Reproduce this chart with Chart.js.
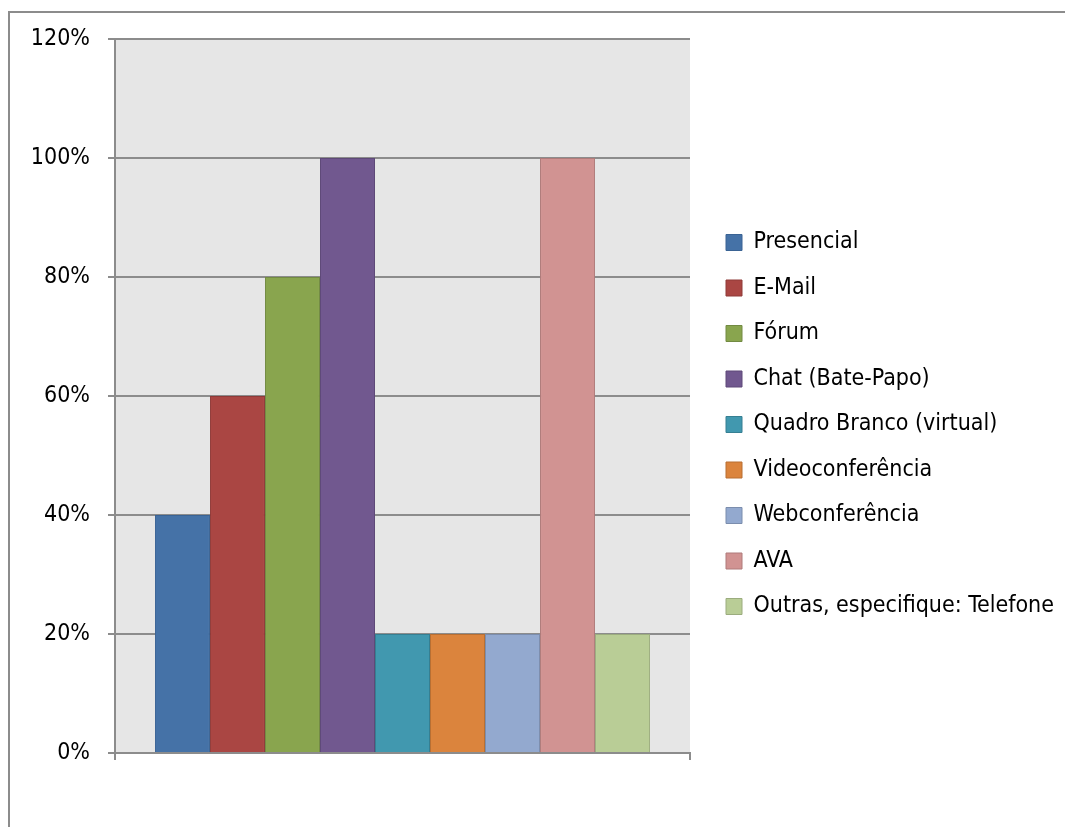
<!DOCTYPE html>
<html>
<head>
<meta charset="utf-8">
<script src="https://cdn.jsdelivr.net/npm/chart.js@4.4.1/dist/chart.umd.min.js"></script>
<style>
  html, body { margin: 0; padding: 0; background: #ffffff; }
  #wrap { position: relative; width: 1065px; height: 827px; overflow: hidden; }
  #frame { position: absolute; left: 8px; top: 11px; width: 2000px; height: 2000px;
           border-left: 2px solid #8c8c8c; border-top: 2px solid #8c8c8c; pointer-events: none; }
  canvas { position: absolute; left: 0; top: 0; }
</style>
</head>
<body>
<div id="wrap">
  <canvas id="c" width="1065" height="827"></canvas>
  <div id="frame"></div>
</div>
<script>
const categories = [''];
const seriesNames = ['Presencial', 'E-Mail', 'Fórum', 'Chat (Bate-Papo)', 'Quadro Branco (virtual)',
                     'Videoconferência', 'Webconferência', 'AVA', 'Outras, especifique: Telefone'];
const seriesValues = [0.40, 0.60, 0.80, 1.00, 0.20, 0.20, 0.20, 1.00, 0.20];
const yTickValues = [0, 0.2, 0.4, 0.6, 0.8, 1.0, 1.2];
const yTickLabels = ['0%', '20%', '40%', '60%', '80%', '100%', '120%'];
const fillColors = ['#4572A7', '#AA4643', '#89A54E', '#71588F', '#4198AF', '#DB843D', '#93A9CF', '#D19392', '#B9CD96'];
const borderColors = ['#3A6394', '#8F3A38', '#728A42', '#5E4978', '#367F92', '#B86F33', '#7B8DAD', '#AF7B7A', '#9BAC7E'];

const FONT = "'Liberation Sans Narrow', 'DejaVu Sans Condensed', 'Liberation Sans', sans-serif";

const plotBg = {
  id: 'plotBg',
  beforeDraw(chart) {
    const a = chart.chartArea, ctx = chart.ctx;
    ctx.save();
    ctx.fillStyle = '#E6E6E6';
    ctx.fillRect(a.left, a.top, a.right - a.left, a.bottom - a.top);
    ctx.restore();
  }
};

const legendPlace = {
  id: 'legendPlace',
  afterLayout(chart) {
    const lg = chart.legend;
    const pad = lg.options.labels.padding;
    const w = lg.width;
    lg.left = 726 - pad;
    lg.right = lg.left + w;
    lg.top = 231 - pad;
    lg.bottom = 827;
    lg.height = lg.bottom - lg.top;
  }
};

new Chart(document.getElementById('c'), {
  type: 'bar',
  data: {
    labels: categories,
    datasets: seriesNames.map((name, i) => ({
      label: name,
      data: [seriesValues[i]],
      backgroundColor: fillColors[i],
      borderColor: borderColors[i],
      borderWidth: 1,
      barPercentage: 1.0,
      categoryPercentage: 0.861
    }))
  },
  options: {
    responsive: false,
    animation: false,
    layout: { padding: { left: 30, top: 39, right: 375, bottom: 67 } },
    plugins: {
      tooltip: { enabled: false },
      legend: {
        position: 'chartArea',
        align: 'start',
        labels: {
          boxWidth: 16,
          boxHeight: 16,
          padding: 22.5,
          color: '#000000',
          font: { family: FONT, size: 23 }
        }
      }
    },
    scales: {
      x: {
        offset: true,
        ticks: { display: false },
        grid: { offset: true, drawOnChartArea: false, drawTicks: true, tickLength: 7, color: '#8c8c8c', lineWidth: 2 },
        border: { display: true, color: '#8c8c8c', width: 2 }
      },
      y: {
        min: 0,
        max: 1.2,
        afterBuildTicks(scale) { scale.ticks = yTickValues.map(v => ({ value: v })); },
        afterFit(scale) { scale.width = 85; },
        ticks: {
          padding: 18,
          color: '#000000',
          font: { family: FONT, size: 23 },
          callback: (v) => yTickLabels[yTickValues.findIndex(t => Math.abs(t - v) < 1e-9)]
        },
        grid: { color: '#8c8c8c', lineWidth: 2, tickLength: 7, drawTicks: true },
        border: { display: true, color: '#8c8c8c', width: 2 }
      }
    }
  },
  plugins: [plotBg, legendPlace]
});
</script>
</body>
</html>
